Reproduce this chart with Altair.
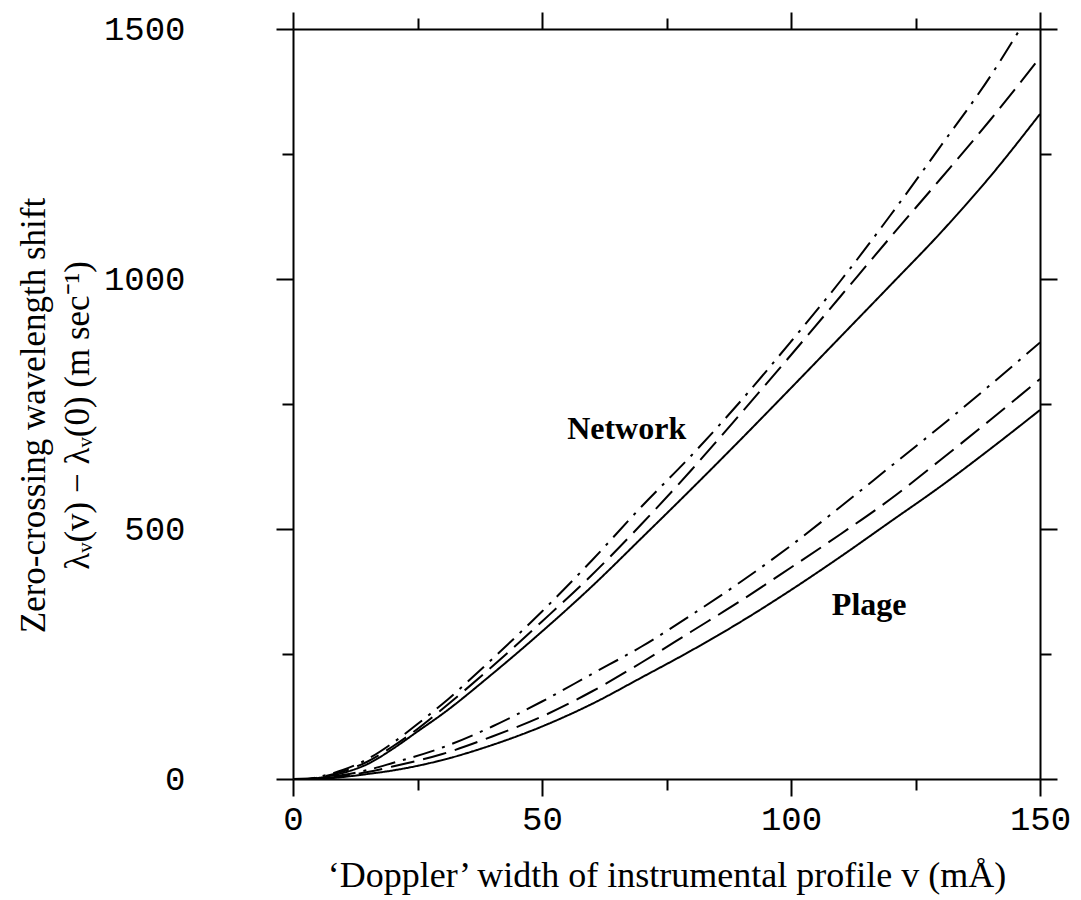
import altair as alt
import pandas as pd

# ---- data ----
net_v = [0, 3, 5, 10, 15, 20, 25, 30, 40, 50, 60, 70, 80, 90, 100, 110, 120, 130, 140, 150]
net_solid = [0, 0, 2, 12, 30, 60, 95, 130, 210, 295, 385, 482, 580, 680, 782, 885, 988, 1092, 1205, 1330]
net_dashed = [0, 0, 3, 15, 35, 65, 100, 140, 225, 315, 408, 510, 618, 732, 848, 966, 1084, 1200, 1318, 1443]
net_dd_v = [0, 3, 5, 10, 15, 20, 25, 30, 40, 50, 60, 70, 80, 90, 100, 110, 120, 130, 140, 146]
net_dashdot = [0, 0, 4, 18, 40, 72, 110, 150, 240, 335, 437, 545, 647, 757, 875, 997, 1128, 1265, 1405, 1500]

plage_v = [0, 5, 10, 15, 20, 30, 40, 50, 60, 70, 80, 90, 100, 110, 120, 130, 140, 150]
plage_solid = [0, 0, 4, 10, 17, 38, 68, 105, 150, 203, 257, 315, 378, 445, 515, 585, 660, 738]
plage_dashed = [0, 1, 6, 14, 25, 50, 85, 125, 175, 233, 295, 357, 423, 490, 560, 638, 718, 800]
plage_dashdot = [0, 2, 8, 18, 32, 63, 105, 155, 210, 265, 328, 395, 467, 545, 625, 705, 788, 873]

label_text = ["Network", "Plage"]
label_v = [67, 115.7]
label_shift = [700, 348]

x_ticks = [0, 25, 50, 75, 100, 125, 150]
y_ticks = [0, 250, 500, 750, 1000, 1250, 1500]

curves = [
    ("net_solid", "solid", net_v, net_solid),
    ("net_dashed", "dashed", net_v, net_dashed),
    ("net_dashdot", "dashdot", net_dd_v, net_dashdot),
    ("plage_solid", "solid", plage_v, plage_solid),
    ("plage_dashed", "dashed", plage_v, plage_dashed),
    ("plage_dashdot", "dashdot", plage_v, plage_dashdot),
]
rows = []
for name, style, xs, ys in curves:
    for i, (a, b) in enumerate(zip(xs, ys)):
        rows.append({"curve": name, "style": style, "v": a, "shift": b, "i": i})
df = pd.DataFrame(rows)
labels_df = pd.DataFrame({"text": label_text, "v": label_v, "shift": label_shift})

xscale = alt.Scale(domain=[0, 150], nice=False, zero=False)
yscale = alt.Scale(domain=[0, 1500], nice=False, zero=False)

x_tick_size = {"condition": {"test": "datum.value % 50 === 0", "value": 17}, "value": 11}
y_tick_size = {"condition": {"test": "datum.value % 500 === 0", "value": 17}, "value": 11}

common_axis = dict(
    grid=False, domainColor="black", domainWidth=2, tickColor="black", tickWidth=2,
    labelFont="Liberation Mono", labelFontSize=34, labelColor="black",
    labelFlush=False, labelOverlap=False, format="d",
)

x_bottom = alt.Axis(
    orient="bottom", values=x_ticks, tickSize=x_tick_size,
    labelExpr="datum.value % 50 === 0 ? datum.label : ''", labelPadding=6,
    title="‘Doppler’ width of instrumental profile v (mÅ)",
    titleFont="Liberation Serif", titleFontSize=36, titleFontWeight="normal",
    titleColor="black", titlePadding=22, **common_axis,
)
y_left = alt.Axis(
    orient="left", values=y_ticks, tickSize=y_tick_size,
    labelExpr="datum.value % 500 === 0 ? datum.label : ''", labelPadding=91,
    title=["Zero-crossing wavelength shift", "λᵥ(v) − λᵥ(0) (m sec⁻¹)"],
    titleFont="Liberation Serif", titleFontSize=35, titleFontWeight="normal",
    titleColor="black", titlePadding=8, titleLineHeight=44, titleY=386,
    **common_axis,
)
x_top = alt.Axis(orient="top", values=x_ticks, tickSize=x_tick_size, labels=False,
                 title=None, **common_axis)
y_right = alt.Axis(orient="right", values=y_ticks, tickSize=y_tick_size, labels=False,
                   title=None, **common_axis)

lines = alt.Chart(df).mark_line(color="black", strokeWidth=2, clip=True,
                                interpolate="monotone").encode(
    x=alt.X("v:Q", scale=xscale, axis=x_bottom),
    y=alt.Y("shift:Q", scale=yscale, axis=y_left),
    strokeDash=alt.StrokeDash(
        "style:N",
        scale=alt.Scale(domain=["solid", "dashed", "dashdot"],
                        range=[[1, 0], [24, 9], [22, 8, 3, 8]]),
        legend=None,
    ),
    detail="curve:N",
    order="i:Q",
)

frame = alt.Chart(df).mark_line(opacity=0).encode(
    x=alt.X("v:Q", scale=xscale, axis=x_top),
    y=alt.Y("shift:Q", scale=yscale, axis=y_right),
    detail="curve:N",
)

texts = alt.Chart(labels_df).mark_text(
    font="Liberation Serif", fontSize=32, fontWeight="bold", color="black",
    align="center", baseline="middle",
).encode(
    x=alt.X("v:Q", scale=xscale, axis=None),
    y=alt.Y("shift:Q", scale=yscale, axis=None),
    text="text:N",
)

chart = (
    alt.layer(lines, frame, texts)
    .resolve_axis(x="independent", y="independent")
    .properties(width=747, height=750,
                padding={"left": 16, "top": 11, "right": 10, "bottom": 5})
    .configure_view(stroke=None)
    .configure(background="white")
)

chart.save("out.html", embed_options={"renderer": "svg", "actions": False})
